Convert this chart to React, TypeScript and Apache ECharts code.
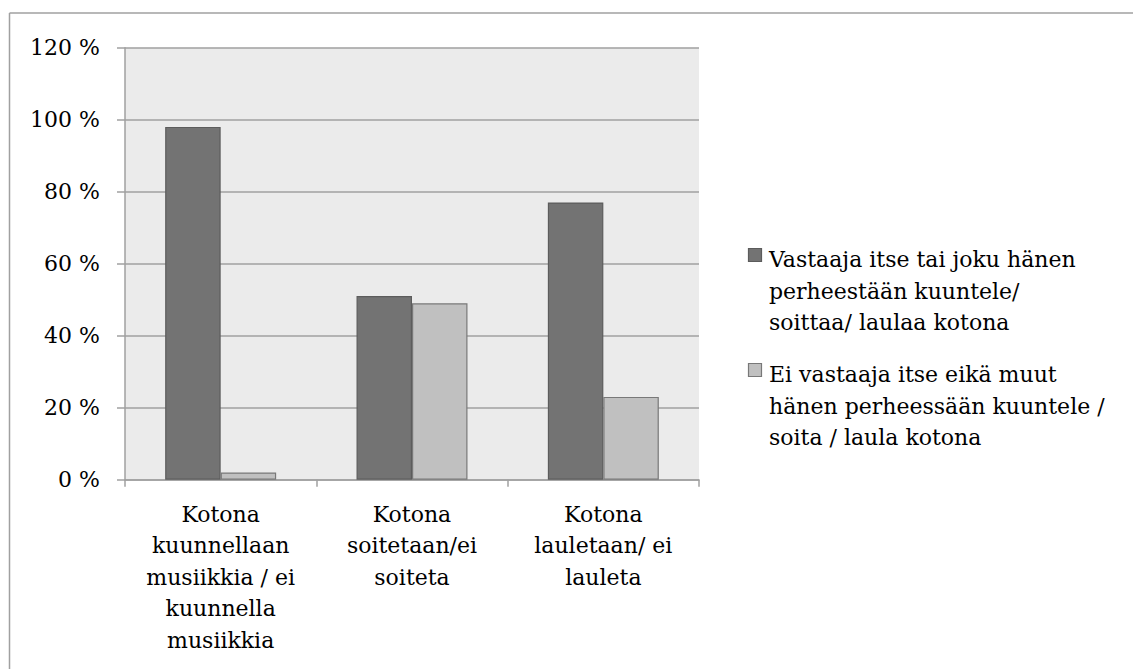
import React, { useEffect, useRef } from "react";
import * as echarts from "echarts";

const categories = [
  "Kotona\nkuunnellaan\nmusiikkia / ei\nkuunnella\nmusiikkia",
  "Kotona\nsoitetaan/ei\nsoiteta",
  "Kotona\nlauletaan/ ei\nlauleta",
];
const seriesNames = [
  "Vastaaja itse tai joku hänen\nperheestään kuuntele/\nsoittaa/ laulaa kotona",
  "Ei vastaaja itse eikä muut\nhänen perheessään kuuntele /\nsoita / laula kotona",
];
const seriesA = [98, 51, 77];
const seriesB = [2, 49, 23];
const yTicks = [0, 20, 40, 60, 80, 100, 120];

const FONT = "DejaVu Serif";

export default function App() {
  const ref = useRef<HTMLDivElement>(null);
  useEffect(() => {
    document.body.style.margin = "0";
    const chart = echarts.init(ref.current!, null, { renderer: "svg" });
    const colors = ["#737373", "#c0c0c0"];
    const borders = ["#5c5c5c", "#787878"];
    const legendTops = [244, 359];
    const graphic: any[] = [
      { type: "line", shape: { x1: 9.5, y1: 13, x2: 1140, y2: 13 }, style: { stroke: "#a0a0a0", lineWidth: 1.5 } },
      { type: "line", shape: { x1: 9.5, y1: 13, x2: 9.5, y2: 680 }, style: { stroke: "#a0a0a0", lineWidth: 1.5 } },
    ];
    seriesNames.forEach((n, i) => {
      graphic.push({
        type: "rect",
        shape: { x: 748.5, y: legendTops[i] + 4.5, width: 13, height: 13 },
        style: { fill: colors[i], stroke: borders[i], lineWidth: 1.2 },
      });
      graphic.push({
        type: "text",
        x: 769,
        y: legendTops[i],
        style: {
          text: n,
          font: `22px "${FONT}"`,
          fill: "#000",
          lineHeight: 31.5,
          verticalAlign: "top",
        },
      });
    });
    chart.setOption({
      animation: false,
      grid: {
        left: 125,
        top: 47.7,
        right: 434,
        bottom: 189.3,
        show: true,
        backgroundColor: "#ebebeb",
        borderWidth: 0,
      },
      legend: { show: false },
      xAxis: {
        type: "category",
        data: categories,
        axisLine: { lineStyle: { color: "#a0a0a0", width: 1.5 } },
        axisTick: { show: true, interval: 0, length: 7, lineStyle: { color: "#a0a0a0", width: 1.5 } },
        axisLabel: {
          interval: 0,
          fontFamily: FONT,
          fontSize: 22,
          lineHeight: 31.5,
          color: "#000",
          margin: 19,
        },
      },
      yAxis: {
        type: "value",
        min: yTicks[0],
        max: yTicks[yTicks.length - 1],
        interval: 20,
        axisLine: { show: true, lineStyle: { color: "#a0a0a0", width: 1.5 } },
        axisTick: { show: true, length: 8, lineStyle: { color: "#a0a0a0", width: 1.5 } },
        splitLine: { lineStyle: { color: "#a0a0a0", width: 1.5 } },
        axisLabel: {
          formatter: (v: number) => `${v} %`,
          fontFamily: FONT,
          fontSize: 22,
          color: "#000",
          margin: 25,
        },
      },
      series: [
        {
          name: seriesNames[0],
          type: "bar",
          data: seriesA,
          barGap: "0%",
          barCategoryGap: "42%",
          itemStyle: { color: colors[0], borderColor: borders[0], borderWidth: 1.2 },
        },
        {
          name: seriesNames[1],
          type: "bar",
          data: seriesB,
          barGap: "0%",
          barCategoryGap: "42%",
          itemStyle: { color: colors[1], borderColor: borders[1], borderWidth: 1.2 },
        },
      ],
      graphic,
    });
    return () => chart.dispose();
  }, []);
  return <div ref={ref} style={{ width: 1133, height: 669, background: "#fff" }} />;
}
